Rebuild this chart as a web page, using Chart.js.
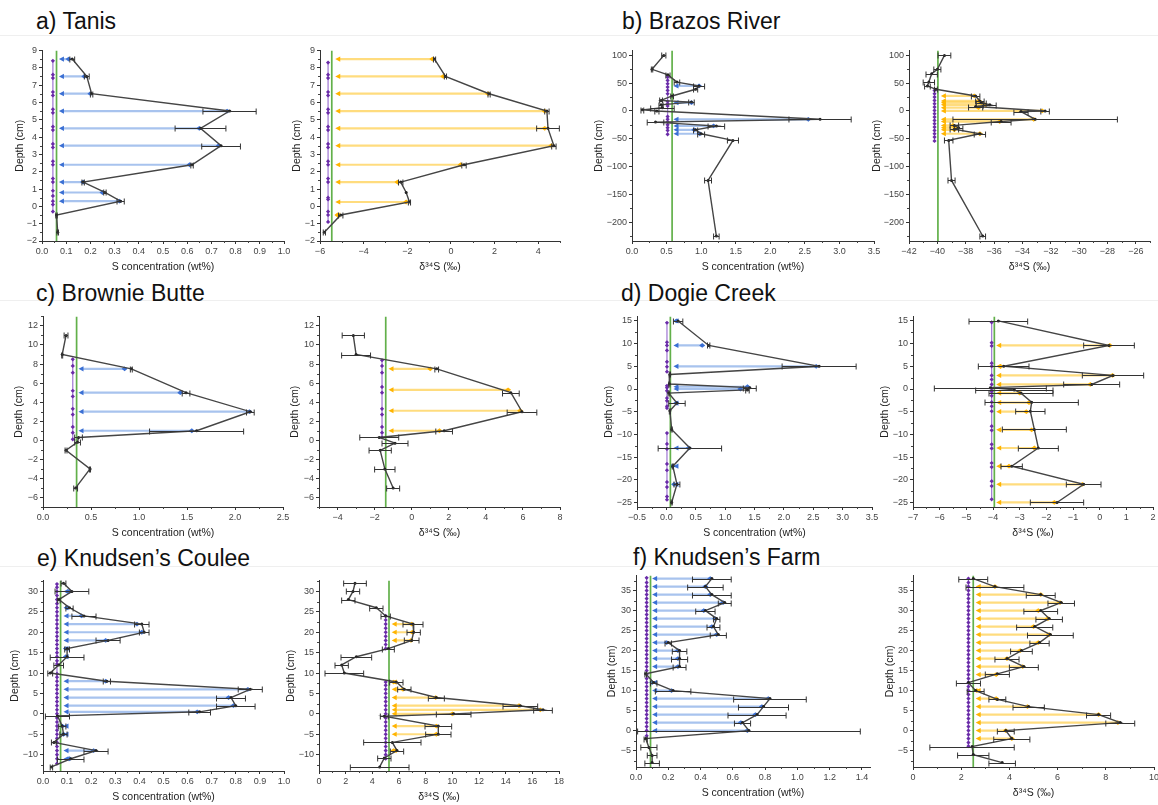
<!DOCTYPE html>
<html>
<head>
<meta charset="utf-8">
<script src="https://cdn.jsdelivr.net/npm/chart.js@4.4.0/dist/chart.umd.min.js"></script>
<style>
    body { margin: 0; background: #fff; }
    #fig { position: relative; width: 1158px; height: 805px; overflow: hidden; font-family: "Liberation Sans", Arial, sans-serif; }
    .hd { position: absolute; font-size: 23px; line-height: 23px; color: #111; white-space: nowrap; }
    .rule { position: absolute; height: 1px; background: #efefef; }
    canvas { position: absolute; }
</style>
</head>
<body>
<div id="fig">
    <div class="rule" style="left:0;top:35px;width:1158px"></div>
    <div class="rule" style="left:0;top:300px;width:1158px"></div>
    <div class="rule" style="left:0;top:566px;width:1158px"></div>
    <div class="hd" style="left:36px;top:10px">a) Tanis</div>
    <div class="hd" style="left:622px;top:10px">b) Brazos River</div>
    <div class="hd" style="left:36px;top:282px">c) Brownie Butte</div>
    <div class="hd" style="left:621px;top:282px">d) Dogie Creek</div>
    <div class="hd" style="left:37px;top:547px">e) Knudsen’s Coulee</div>
    <div class="hd" style="left:633px;top:546px">f) Knudsen’s Farm</div>
</div>
<script>
    // ---- tick labels ----
    const tanisYTicks = ["−2", "−1", "0", "1", "2", "3", "4", "5", "6", "7", "8", "9"];
    const tanisSTicks = ["0.0", "0.1", "0.2", "0.3", "0.4", "0.5", "0.6", "0.7", "0.8", "0.9", "1.0"];
    const tanisDTicks = ["−6", "−4", "−2", "0", "2", "4"];
    const brazosYTicks = ["−200", "−150", "−100", "−50", "0", "50", "100"];
    const brazosSTicks = ["0.0", "0.5", "1.0", "1.5", "2.0", "2.5", "3.0", "3.5"];
    const brazosDTicks = ["−42", "−40", "−38", "−36", "−34", "−32", "−30", "−28", "−26"];
    const brownieYTicks = ["−6", "−4", "−2", "0", "2", "4", "6", "8", "10", "12"];
    const brownieSTicks = ["0.0", "0.5", "1.0", "1.5", "2.0", "2.5"];
    const brownieDTicks = ["−4", "−2", "0", "2", "4", "6", "8"];
    const dogieYTicks = ["−25", "−20", "−15", "−10", "−5", "0", "5", "10", "15"];
    const dogieSTicks = ["−0.5", "0.0", "0.5", "1.0", "1.5", "2.0", "2.5", "3.0", "3.5"];
    const dogieDTicks = ["−7", "−6", "−5", "−4", "−3", "−2", "−1", "0", "1", "2"];
    const couleeYTicks = ["−10", "−5", "0", "5", "10", "15", "20", "25", "30"];
    const couleeSTicks = ["0.0", "0.1", "0.2", "0.3", "0.4", "0.5", "0.6", "0.7", "0.8", "0.9", "1.0"];
    const couleeDTicks = ["0", "2", "4", "6", "8", "10", "12", "14", "16", "18"];
    const farmYTicks = ["−5", "0", "5", "10", "15", "20", "25", "30", "35"];
    const farmSTicks = ["0.0", "0.2", "0.4", "0.6", "0.8", "1.0", "1.2", "1.4"];
    const farmDTicks = ["0", "2", "4", "6", "8", "10"];

    // ---- a) Tanis ----
    const tanisSDepth = [8.5, 7.5, 6.5, 5.5, 4.5, 3.5, 2.4, 1.4, 0.8, 0.3, -0.5, -1.5];
    const tanisSVal = [0.125, 0.185, 0.205, 0.775, 0.655, 0.74, 0.62, 0.17, 0.26, 0.325, 0.06, 0.065];
    const tanisSErr = [0.01, 0.01, 0.005, 0.11, 0.105, 0.08, 0.005, 0.005, 0.005, 0.015, 0.003, 0.003];
    const tanisSArrowDepth = [8.5, 7.5, 6.5, 5.5, 4.5, 3.5, 2.4, 1.4, 0.8, 0.3];
    const tanisSArrowVal = [0.11, 0.175, 0.2, 0.765, 0.65, 0.73, 0.61, 0.17, 0.25, 0.32];
    const tanisSPurple = [8.4, 7.6, 7.4, 6.6, 6.4, 5.6, 5.4, 4.6, 4.4, 3.6, 3.4, 2.6, 2.4, 1.6, 1.4, 0.9, 0.6, 0.3, 0.1, -0.3];

    const tanisDDepth = [8.5, 7.5, 6.5, 5.5, 4.5, 3.5, 2.4, 1.4, 0.8, 0.25, -0.5, -1.5];
    const tanisDVal = [-0.75, -0.25, 1.75, 4.4, 4.45, 4.72, 0.6, -2.3, -2.05, -1.9, -5.05, -5.8];
    const tanisDErr = [0.05, 0.05, 0.05, 0.1, 0.52, 0.1, 0.1, 0.1, 0, 0.05, 0.1, 0.05];
    const tanisDArrowDepth = [8.5, 7.5, 6.5, 5.5, 4.5, 3.5, 2.4, 1.4, 0.25, -0.5];
    const tanisDArrowVal = [-0.85, -0.35, 1.7, 4.3, 4.3, 4.6, 0.45, -2.45, -2.05, -5.2];
    const tanisDPurple = [8.3, 7.6, 7.4, 6.6, 6.4, 5.6, 5.4, 4.6, 4.4, 3.6, 3.4, 2.6, 2.4, 1.6, 1.4, 0.5, 0.4, -0.3, -0.5, -0.9];

    // ---- b) Brazos River ----
    const brazosSDepth = [100, 75, 65, 52, 45, 39, 27, 19, 16, 11, 6, 2, 0, -15, -20, -27, -34, -41, -53, -125, -225];
    const brazosSVal = [0.46, 0.29, 0.52, 0.65, 0.97, 0.92, 0.58, 0.42, 0.86, 0.42, 0.44, 0.15, 0.36, 2.72, 0.34, 1.22, 0.92, 1.0, 1.46, 1.1, 1.22];
    const brazosSErr = [0.03, 0.01, 0.03, 0.04, 0.08, 0.03, 0.02, 0.02, 0.04, 0.03, 0.17, 0.02, 0.03, 0.45, 0.12, 0.12, 0.03, 0.05, 0.08, 0.05, 0.04];
    const brazosSArrowDepth = [45, 15, -15, -27, -34, -41];
    const brazosSArrowVal = [0.97, 0.86, 2.55, 1.18, 0.9, 0.98];
    const brazosSPurple = [61, 55, 49, 43, 37, 31, 17, 13, 9, -10, -15, -20, -25, -30, -35, -42];

    const brazosDDepth = [100, 75, 67, 52, 45, 39, 27, 18, 15, 11, 8, 0, -1, -15, -19, -26, -30, -33, -41, -53, -125, -225];
    const brazosDVal = [-39.5, -40.0, -40.4, -40.6, -40.7, -40.1, -37.3, -37.0, -36.9, -36.3, -37.3, -32.4, -34.1, -33.1, -35.5, -38.8, -38.5, -38.8, -37.0, -39.2, -39.0, -36.8];
    const brazosDErr = [0.45, 0.25, 0.4, 0.4, 0.2, 0.1, 0.3, 0.3, 0.35, 0.45, 0.5, 0.3, 0.5, 5.8, 0.7, 0.3, 0.3, 0.3, 0.4, 0.3, 0.25, 0.2];
    const brazosDArrowDepth = [27, 18, 15, 11, 6, 0, -15, -19, -26, -30, -34, -41];
    const brazosDArrowVal = [-37.4, -37.1, -36.9, -36.6, -37.1, -32.6, -33.2, -35.6, -38.9, -38.7, -38.8, -37.0];
    const brazosDPurple = [37, 31, 25, 19, 13, 7, 1, -5, -11, -17, -23, -29, -35, -41, -47, -54];

    // ---- c) Brownie Butte ----
    const brownieSDepth = [11, 9, 7.5, 5, 3, 1, 0.3, -0.2, -1.05, -3, -5];
    const brownieSVal = [0.24, 0.2, 0.92, 1.49, 2.16, 1.6, 0.37, 0.36, 0.24, 0.49, 0.34];
    const brownieSErr = [0.02, 0.005, 0.01, 0.04, 0.04, 0.49, 0.04, 0.03, 0.01, 0.005, 0.02];
    const brownieSArrowDepth = [7.5, 5, 3, 1];
    const brownieSArrowVal = [0.85, 1.43, 2.15, 1.55];
    const brownieSPurple = [8.5, 7.8, 7.1, 5.2, 4.6, 3.3, 2.7, 1.4, 0.8, 0.1];

    const brownieDDepth = [11, 9, 7.5, 5, 3, 1, 0.3, -0.3, -1.05, -3, -5];
    const brownieDVal = [-3.15, -3.0, 1.35, 5.35, 5.95, 1.75, -1.75, -0.9, -1.7, -1.45, -1.0];
    const brownieDErr = [0.6, 0.78, 0.1, 0.45, 0.8, 0.45, 1.05, 0.7, 0.6, 0.55, 0.35];
    const brownieDArrowDepth = [7.5, 5.3, 3.1, 1.0];
    const brownieDArrowVal = [1.0, 5.2, 5.85, 1.5];
    const brownieDPurple = [8.4, 7.8, 7.1, 5.6, 5.0, 3.3, 2.7, 1.4, 0.8, 0.3];

    // ---- d) Dogie Creek ----
    const dogieSDepth = [15, 9.6, 5.0, 3.2, 1.1, 0.3, -0.2, -0.9, -3.1, -4.8, -8.9, -13, -17, -21, -25];
    const dogieSVal = [0.2, 0.72, 2.6, 0.06, 0.05, 1.42, 1.38, 0.04, 0.18, 0.06, 0.09, 0.4, 0.11, 0.18, 0.09];
    const dogieSErr = [0.08, 0.02, 0.63, 0.01, 0.01, 0.11, 0.03, 0.01, 0.14, 0.01, 0.01, 0.54, 0.01, 0.05, 0.01];
    const dogieSArrowDepth = [15, 9.6, 5.0, 0.5, 0, -3.1, -13, -17, -21];
    const dogieSArrowVal = [0.17, 0.61, 2.55, 1.38, 1.26, 0.17, 0.38, 0.1, 0.13];
    const dogieSPurple = [14.6, 10.3, 9.6, 8.5, 6.0, 4.9, 3.8, null, 0.7, 0.3, -0.4, -2.0, -2.6, -3.8, -4.2, null, -9.7, -12.1, -13.2, -16.5, -17.9, -20.5, -21.6, -23.7, -24.4];

    const dogieDDepth = [15, 9.6, 5.0, 3.0, 1.0, 0.3, -0.2, -0.9, -2.9, -4.9, -8.9, -13, -17, -21, -25];
    const dogieDVal = [-3.8, 0.35, -3.6, 0.5, -0.3, -4.1, -3.2, -2.95, -2.55, -2.6, -2.45, -2.3, -3.3, -0.6, -1.6];
    const dogieDErr = [1.1, 0.95, 0.95, 1.15, 1.05, 2.1, 1.45, 1.2, 1.75, 0.55, 1.2, 0.75, 0.4, 0.65, 1.0];
    const dogieDArrowDepth = [9.6, 5.0, 3.0, 1.0, -0.9, -3.0, -5.0, -9.0, -13, -17, -21, -25];
    const dogieDArrowVal = [0.38, -3.72, 0.48, -0.35, -3.0, -2.65, -2.75, -2.55, -2.45, -3.4, -0.65, -1.7];
    const dogieDPurple = [14.7, 10.2, 9.5, 5.7, 5.0, 3.0, 2.1, 1.0, 0.1, -0.6, -1.5, -2.9, -3.8, -4.9, -8.2, -9.1, -12.2, -13.1, -16.3, -17.2, -20.3, -21.4, -24.3];

    // ---- e) Knudsen's Coulee ----
    const couleeSDepth = [32, 30, 28, 26, 24, 22, 20, 18, 16, 14, 12, 10, 8, 6, 4, 2, 0.5, -0.5, -3, -5, -7, -9, -11, -13];
    const couleeSVal = [0.085, 0.12, 0.066, 0.11, 0.17, 0.41, 0.42, 0.27, 0.1, 0.1, 0.065, 0.03, 0.265, 0.86, 0.78, 0.8, 0.65, 0.06, 0.08, 0.085, 0.045, 0.22, 0.115, 0.035];
    const couleeSErr = [0.01, 0.07, 0.005, 0.015, 0.05, 0.03, 0.02, 0.05, 0.01, 0.07, 0.02, 0.01, 0.015, 0.05, 0.06, 0.08, 0.045, 0.05, 0.015, 0.015, 0.01, 0.05, 0.055, 0.005];
    const couleeSArrowDepth = [30, 26, 24, 22, 20, 18, 16, 14, 8, 6, 4, 2, 0.5, -3, -5, -9, -11];
    const couleeSArrowVal = [0.11, 0.1, 0.16, 0.39, 0.41, 0.26, 0.095, 0.095, 0.26, 0.85, 0.77, 0.79, 0.64, 0.08, 0.085, 0.21, 0.11];
    const couleeSPurple = [31.8, 31, 30, 29, 28, 27, 26, 25, 24, 23, 22, 21, 20, 19, 18, 17, 16, 15, 14, 13, 12.2, 9.8, 9, 8, 7, 6, 5, 4, 3, 2, 1, 0, -1, -2, -3, -4, -5, -6, -7, -8, -9, -10, -11, -12.2];

    const couleeDDepth = [32, 30, 28, 26, 24, 22, 20, 18, 16, 14, 12, 10, 7.8, 6, 4, 2, 1, 0, -0.6, -3, -5, -7, -9, -10.8, -13];
    const couleeDVal = [2.7, 2.55, 2.2, 4.3, 5.0, 7.05, 7.1, 6.95, 5.2, 2.8, 1.7, 1.9, 5.8, 6.4, 8.8, 15.1, 16.8, 10.1, 4.9, 8.95, 8.95, 5.5, 5.85, 4.9, 4.55];
    const couleeDErr = [0.85, 0.5, 0.5, 0.5, 0.35, 0.75, 0.5, 0.55, 0.45, 1.15, 0.5, 1.45, 0.5, 0.5, 0.6, 1.3, 0.7, 1.3, 0.3, 1.0, 0.95, 2.15, 0.5, 0.5, 2.2];
    const couleeDArrowDepth = [22, 20, 18, 7.8, 6, 4, 2, 1, 0, -3, -5, -9];
    const couleeDArrowVal = [6.95, 7.0, 6.9, 5.6, 6.3, 8.75, 15.0, 16.6, 10.0, 8.8, 8.8, 5.6];
    const couleeDPurple = [24, 23, 22, 21, 20, 19, 18, 17, 16, null, 7.8, 7, 6, 5, 4, 3, 2, 1, 0, -1, -2, -3, -4, -5, -6, -7, -8, -9, -10, -11];

    // ---- f) Knudsen's Farm ----
    const farmSDepth = [38, 36, 34, 32, 30, 28, 26, 24, 22, 20, 18, 16, 14.2, 12, 10, 8, 6, 4, 2, 0, -2, -4.2, -6.2, -8];
    const farmSVal = [0.47, 0.43, 0.47, 0.55, 0.43, 0.5, 0.48, 0.51, 0.2, 0.27, 0.27, 0.27, 0.06, 0.11, 0.23, 0.83, 0.79, 0.75, 0.66, 0.7, 0.06, 0.08, 0.1, 0.1];
    const farmSErr = [0.12, 0.11, 0.12, 0.04, 0.06, 0.02, 0.04, 0.05, 0.02, 0.045, 0.05, 0.04, 0.005, 0.02, 0.11, 0.225, 0.155, 0.18, 0.05, 0.69, 0.01, 0.05, 0.03, 0.045];
    const farmSArrowDepth = [38, 36, 34, 32, 30, 28, 26, 24, 22, 20, 18, 16, 12, 10, 8, 6, 4, 2, 0];
    const farmSArrowVal = [0.46, 0.43, 0.46, 0.54, 0.42, 0.49, 0.47, 0.5, 0.19, 0.26, 0.26, 0.26, 0.1, 0.22, 0.82, 0.78, 0.74, 0.65, 0.69];
    const farmSPurple = [38.2, 37, 36, 35, 34, 33, 32, 31, 30, 29, 28, 27, 26, 25, 24, 23, 22, 21, 20, 19, 18, 17, 16, 15, 14, 13, 12, 11, 10, 9, 8, 7, 6, 5, 4, 3, 2, 1, 0, -1.3];

    const farmDDepth = [38, 36, 34, 32, 30, 28, 26, 24, 22, 20, 18, 16, 14.2, 12, 10, 7.8, 6, 4, 2, 0, -2, -4, -6, -8];
    const farmDVal = [2.5, 3.4, 5.3, 6.15, 5.3, 5.65, 5.05, 5.7, 5.25, 4.5, 3.9, 4.6, 3.5, 2.3, 2.6, 3.5, 4.8, 7.7, 8.6, 3.85, 4.1, 2.45, 2.5, 3.7];
    const farmDErr = [0.6, 1.2, 0.6, 0.55, 0.7, 0.55, 0.75, 0.95, 0.4, 0.45, 0.5, 0.6, 0.5, 0.5, 0.35, 0.35, 0.65, 0.5, 0.6, 0.35, 0.75, 1.75, 0.65, 0.55];
    const farmDArrowDepth = [36, 34, 32, 30, 28, 26, 24, 22, 20, 18, 16, 14, 10, 8, 6, 4, 2, 0, -2];
    const farmDArrowVal = [3.4, 5.3, 6.1, 5.2, 5.6, 5.0, 5.65, 5.2, 4.45, 3.9, 4.55, 3.45, 2.65, 3.45, 4.75, 7.7, 8.5, 3.85, 4.1];
    const farmDPurple = [38, 37, 36, 35, 34, 33, 32, 31, 30, 29, 28, 27, 26, 25, 24, 23, 22, 21, 20, 19, 18, 17, 16, 15, 14, 13, 12, 11, 10, 9, 8, 7, 6, 5, 4, 3, 2, 1, 0, -1, -2, -3, -3.9];

    const S_TITLE = "S concentration (wt%)";
    const D_TITLE = "δ³⁴S (‰)";
    const BLUE = { line: "rgba(96,146,224,0.55)", head: "#3a6fd4" };
    const GOLD = { line: "rgba(255,196,40,0.6)", head: "#ffb400" };

    // box = plot area [left, top, right, bottom] in page pixels; yDist = gap from axis to "Depth" title
    const panels = [
        { box: [42, 48, 284, 241], yDist: 22, kind: "S", xMin: 0, xMax: 1, yMin: -2, yMax: 9,
          xTicks: tanisSTicks, yTicks: tanisYTicks, depth: tanisSDepth, val: tanisSVal, err: tanisSErr,
          aDepth: tanisSArrowDepth, aVal: tanisSArrowVal, pDepth: tanisSPurple, base: 0.07, green: 0.06, purple: 0.045 },
        { box: [320, 48, 560, 241], yDist: 23, kind: "D", xMin: -6, xMax: 5, yMin: -2, yMax: 9,
          xTicks: tanisDTicks, yTicks: tanisYTicks, depth: tanisDDepth, val: tanisDVal, err: tanisDErr,
          aDepth: tanisDArrowDepth, aVal: tanisDArrowVal, pDepth: tanisDPurple, base: -5.3, green: -5.46, purple: -5.63 },
        { box: [632, 48, 874, 241], yDist: 33, kind: "S", xMin: 0, xMax: 3.5, yMin: -234, yMax: 109,
          xTicks: brazosSTicks, yTicks: brazosYTicks, depth: brazosSDepth, val: brazosSVal, err: brazosSErr,
          aDepth: brazosSArrowDepth, aVal: brazosSArrowVal, pDepth: brazosSPurple, base: 0.6, green: 0.58, purple: 0.515 },
        { box: [909, 48, 1150, 241], yDist: 32, kind: "D", xMin: -42, xMax: -25, yMin: -234, yMax: 109,
          xTicks: brazosDTicks, yTicks: brazosYTicks, depth: brazosDDepth, val: brazosDVal, err: brazosDErr,
          aDepth: brazosDArrowDepth, aVal: brazosDArrowVal, pDepth: brazosDPurple, base: -39.75, green: -39.96, purple: -40.2 },
        { box: [43, 314, 283, 507], yDist: 24, kind: "S", xMin: 0, xMax: 2.5, yMin: -7, yMax: 13,
          xTicks: brownieSTicks, yTicks: brownieYTicks, depth: brownieSDepth, val: brownieSVal, err: brownieSErr,
          aDepth: brownieSArrowDepth, aVal: brownieSArrowVal, pDepth: brownieSPurple, base: 0.37, green: 0.35, purple: 0.31 },
        { box: [319, 314, 560, 507], yDist: 24, kind: "D", xMin: -5, xMax: 8, yMin: -7, yMax: 13,
          xTicks: brownieDTicks, yTicks: brownieYTicks, depth: brownieDDepth, val: brownieDVal, err: brownieDErr,
          aDepth: brownieDArrowDepth, aVal: brownieDArrowVal, pDepth: brownieDPurple, base: -1.25, green: -1.4, purple: -1.6 },
        { box: [637, 314, 872, 507], yDist: 28, kind: "S", xMin: -0.5, xMax: 3.5, yMin: -26, yMax: 16,
          xTicks: dogieSTicks, yTicks: dogieYTicks, depth: dogieSDepth, val: dogieSVal, err: dogieSErr,
          aDepth: dogieSArrowDepth, aVal: dogieSArrowVal, pDepth: dogieSPurple, base: 0.12, green: 0.068, purple: 0.01 },
        { box: [913, 314, 1153, 507], yDist: 28, kind: "D", xMin: -7, xMax: 2, yMin: -26, yMax: 16,
          xTicks: dogieDTicks, yTicks: dogieYTicks, depth: dogieDDepth, val: dogieDVal, err: dogieDErr,
          aDepth: dogieDArrowDepth, aVal: dogieDArrowVal, pDepth: dogieDPurple, base: -3.88, green: -3.95, purple: -4.05 },
        { box: [43, 578, 284, 771], yDist: 28, kind: "S", xMin: 0, xMax: 1, yMin: -14, yMax: 32.7,
          xTicks: couleeSTicks, yTicks: couleeYTicks, depth: couleeSDepth, val: couleeSVal, err: couleeSErr,
          aDepth: couleeSArrowDepth, aVal: couleeSArrowVal, pDepth: couleeSPurple, base: 0.085, green: 0.073, purple: 0.058 },
        { box: [319, 578, 559, 771], yDist: 28, kind: "D", xMin: 0, xMax: 18, yMin: -14, yMax: 32.7,
          xTicks: couleeDTicks, yTicks: couleeYTicks, depth: couleeDDepth, val: couleeDVal, err: couleeDErr,
          aDepth: couleeDArrowDepth, aVal: couleeDArrowVal, pDepth: couleeDPurple, base: 5.45, green: 5.25, purple: 5.0 },
        { box: [636, 573, 870, 767], yDist: 24, kind: "S", xMin: 0, xMax: 1.45, yMin: -9.1, yMax: 38.8,
          xTicks: farmSTicks, yTicks: farmYTicks, depth: farmSDepth, val: farmSVal, err: farmSErr,
          aDepth: farmSArrowDepth, aVal: farmSArrowVal, pDepth: farmSPurple, base: 0.1, green: 0.09, purple: 0.066 },
        { box: [913, 573, 1154, 767], yDist: 23, kind: "D", xMin: 0, xMax: 10, yMin: -9.1, yMax: 38.8,
          xTicks: farmDTicks, yTicks: farmYTicks, depth: farmDDepth, val: farmDVal, err: farmDErr,
          aDepth: farmDArrowDepth, aVal: farmDArrowVal, pDepth: farmDPurple, base: 2.6, green: 2.5, purple: 2.3 }
    ];

    function num(s) {
        return parseFloat(String(s).replace("\u2212", "-"));
    }

    // arrows (behind the data line), error bars and minor ticks
    const overlay = {
        id: "overlay",
        beforeDatasetsDraw(chart) {
            const o = chart.options.plugins.overlay;
            const { ctx, chartArea: a, scales: { x, y } } = chart;
            ctx.save();
            ctx.beginPath();
            ctx.rect(a.left, a.top, a.right - a.left, a.bottom - a.top);
            ctx.clip();
            const x0 = x.getPixelForValue(o.base);
            o.aDepth.forEach((d, i) => {
                const py = y.getPixelForValue(d);
                const x1 = x.getPixelForValue(o.aVal[i]);
                ctx.strokeStyle = o.color.line;
                ctx.lineWidth = 2.2;
                ctx.beginPath();
                ctx.moveTo(x0 + 3, py);
                ctx.lineTo(x1, py);
                ctx.stroke();
                ctx.fillStyle = o.color.head;
                ctx.beginPath();
                ctx.moveTo(x0, py);
                ctx.lineTo(x0 + 5, py - 2.6);
                ctx.lineTo(x0 + 5, py + 2.6);
                ctx.closePath();
                ctx.fill();
                ctx.beginPath();
                ctx.moveTo(x1 - 3, py);
                ctx.lineTo(x1, py - 2.4);
                ctx.lineTo(x1 + 3, py);
                ctx.lineTo(x1, py + 2.4);
                ctx.closePath();
                ctx.fill();
            });
            ctx.restore();
        },
        afterDatasetsDraw(chart) {
            const o = chart.options.plugins.overlay;
            const { ctx, chartArea: a, scales: { x, y } } = chart;
            ctx.save();
            ctx.strokeStyle = "#333";
            ctx.lineWidth = 1;
            o.depth.forEach((d, i) => {
                const e = o.err[i];
                if (!e) return;
                const py = Math.round(y.getPixelForValue(d)) + 0.5;
                const xa = x.getPixelForValue(o.val[i] - e);
                const xb = x.getPixelForValue(o.val[i] + e);
                ctx.beginPath();
                ctx.moveTo(xa, py);
                ctx.lineTo(xb, py);
                ctx.moveTo(xa, py - 3);
                ctx.lineTo(xa, py + 3);
                ctx.moveTo(xb, py - 3);
                ctx.lineTo(xb, py + 3);
                ctx.stroke();
            });
            // minor ticks halfway between labelled ticks
            ctx.strokeStyle = "#444";
            [[x, true], [y, false]].forEach(([s, horiz]) => {
                const v = s.ticks.map((t) => t.value);
                const half = (v[1] - v[0]) / 2;
                const mids = v.map((t) => t + half);
                mids.push(v[0] - half);
                mids.forEach((m) => {
                    if (m < s.min || m > s.max) return;
                    const p = Math.round(s.getPixelForValue(m)) + 0.5;
                    ctx.beginPath();
                    if (horiz) {
                        ctx.moveTo(p, a.bottom);
                        ctx.lineTo(p, a.bottom + 2);
                    } else {
                        ctx.moveTo(a.left, p);
                        ctx.lineTo(a.left - 2, p);
                    }
                    ctx.stroke();
                });
            });
            ctx.restore();
        }
    };

    function axisOptions(labels, min, max, title, fit) {
        const values = labels.map(num);
        return {
            type: "linear",
            min,
            max,
            afterBuildTicks: (scale) => {
                scale.ticks = values.map((v) => ({ value: v }));
            },
            afterFit: fit,
            grid: { drawOnChartArea: false, tickLength: 3, color: "#333", tickColor: "#333" },
            border: { display: true, color: "#333", width: 1 },
            ticks: {
                autoSkip: false,
                maxRotation: 0,
                padding: 2,
                color: "#444",
                font: { family: "Liberation Sans, Arial, sans-serif", size: 9 },
                callback: (v, i) => labels[i]
            },
            title: {
                display: true,
                text: title,
                color: "#222",
                padding: 0,
                font: { family: "Liberation Sans, Arial, sans-serif", size: 10.5 }
            }
        };
    }

    function makePanel(p) {
        const fig = document.getElementById("fig");
        const [l, t, r, b] = p.box;
        const wy = p.yDist + 6;
        const hx = 32;
        const padT = 5;
        const padR = 12;
        const w = wy + (r - l) + padR;
        const h = padT + (b - t) + hx;
        const cv = document.createElement("canvas");
        cv.width = w;
        cv.height = h;
        cv.style.left = l - wy + "px";
        cv.style.top = t - padT + "px";
        cv.style.width = w + "px";
        cv.style.height = h + "px";
        fig.appendChild(cv);

        new Chart(cv, {
            type: "scatter",
            data: {
                datasets: [
                    {
                        data: p.depth.map((d, i) => ({ x: p.val[i], y: d })),
                        showLine: true,
                        borderColor: "#454545",
                        borderWidth: 1.4,
                        pointRadius: 1.5,
                        pointBackgroundColor: "#222",
                        pointBorderWidth: 0
                    },
                    {
                        data: p.pDepth.map((d) => ({ x: p.purple, y: d })),
                        showLine: true,
                        borderColor: "#a57fd6",
                        borderWidth: 1.3,
                        pointStyle: "rectRot",
                        pointRadius: 2.1,
                        pointBackgroundColor: "#6a2ca8",
                        pointBorderWidth: 0
                    },
                    {
                        data: [{ x: p.green, y: p.yMin }, { x: p.green, y: p.yMax }],
                        showLine: true,
                        borderColor: "#62b04a",
                        borderWidth: 1.7,
                        pointRadius: 0
                    }
                ]
            },
            options: {
                responsive: false,
                animation: false,
                events: [],
                layout: { autoPadding: false, padding: { top: padT, right: padR, left: 0, bottom: 0 } },
                plugins: {
                    legend: { display: false },
                    tooltip: { enabled: false },
                    overlay: {
                        depth: p.depth, val: p.val, err: p.err,
                        aDepth: p.aDepth, aVal: p.aVal, base: p.base,
                        color: p.kind === "S" ? BLUE : GOLD
                    }
                },
                scales: {
                    x: axisOptions(p.xTicks, p.xMin, p.xMax, p.kind === "S" ? S_TITLE : D_TITLE, (s) => { s.height = hx; }),
                    y: axisOptions(p.yTicks, p.yMin, p.yMax, "Depth (cm)", (s) => { s.width = wy; })
                }
            },
            plugins: [overlay]
        });
    }

    panels.forEach(makePanel);
</script>
</body>
</html>
